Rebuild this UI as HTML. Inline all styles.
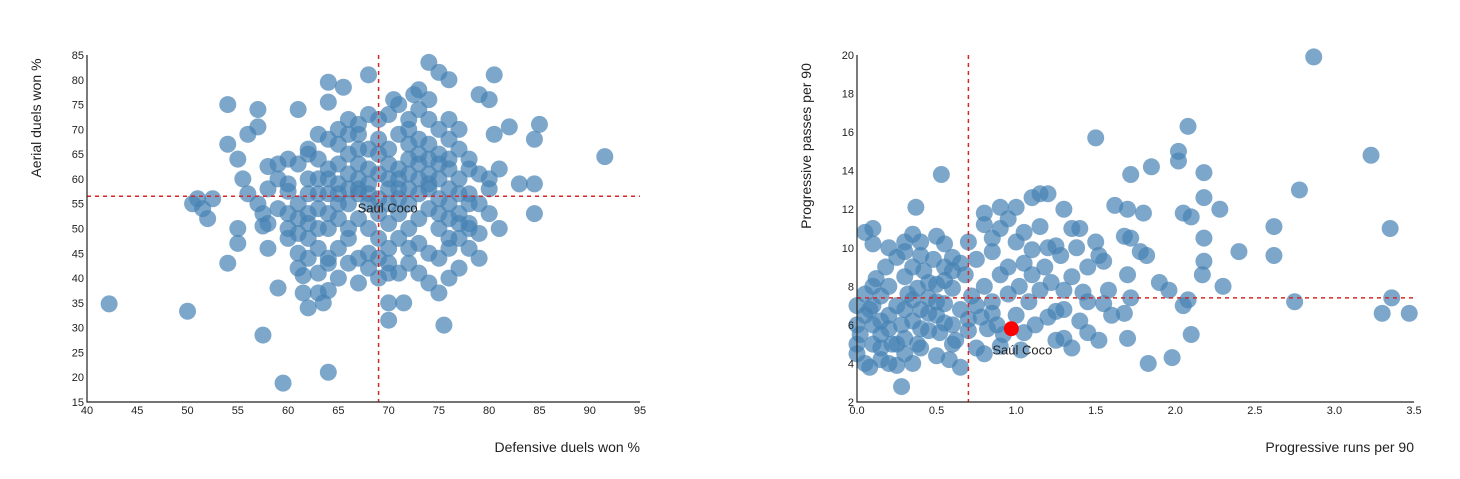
<!DOCTYPE html>
<html><head><meta charset="utf-8"><style>
body{margin:0;background:#fff;width:1460px;height:474px;overflow:hidden}
svg text{font-family:"Liberation Sans",sans-serif;fill:#222}
</style></head><body>
<svg id="s" width="1460" height="474"></svg>
<script>
const leftPts=[[42.2,34.8],[50,33.3],[50.5,55],[51,56],[51.5,54],[52,52],[52.5,56],[54,75],[54,43],[54,67],[55,64],[55,47],[55,50],[56,69],[57,74],[57,70.5],[57.5,28.5],[59.5,18.8],[64,21],[59,38],[91.5,64.5],[84.5,59],[84.5,53],[85,71],[84.5,68],[83,59],[82,70.5],[80.5,81],[80.5,69],[81,62],[81,50],[79,77],[80,76],[75.5,30.5],[70,31.5],[70,35],[71.5,35],[75,37],[74,83.5],[75,81.5],[76,80],[72.5,77],[70.5,76],[68,81],[64,79.5],[65.5,78.5],[64,75.5],[61,74],[58,62.5],[58,58],[57,55],[56,57],[55.5,60],[57.5,53],[57.5,50.5],[58,46],[59,60],[60,53],[60,57.5],[61,63],[61,45],[61,42],[62,44],[61.5,40.5],[61.5,37],[62,34],[63,37],[63.5,35],[64,37.5],[63,41],[64,43],[62,48],[61,49],[60,50],[62,53],[63,57],[62,60],[63,64],[62,66],[64,68],[65,70],[66,72],[67,71],[68,73],[69,72],[70,73],[71,75],[72,72],[73,74],[74,72],[75,70],[76,68],[77,66],[78,64],[79,61],[77,60],[76,58],[78,57],[79,55],[77,53],[75,50],[76,48],[78,46],[79,44],[77,42],[76,40],[74,39],[73,41],[72,43],[70,41],[69,40],[68,42],[67,44],[66,43],[65,46],[66,48],[64,50],[65,52],[66,55],[67,57],[68,59],[69,61],[70,60],[71,62],[72,64],[73,65],[74,67],[72,67],[70,66],[69,68],[68,66],[67,63],[66,61],[65,59],[64,57],[64,60],[63,54],[65,55],[67,52],[68,50],[69,48],[70,46],[71,48],[72,50],[73,52],[74,54],[75,56],[74,58],[73,60],[72,58],[71,56],[70,55],[69,53],[68,55],[67,58],[66,50],[70,51],[71,53],[72,55],[73,57],[74,61],[75,63],[76,62],[75,60],[76,64],[77,57],[78,51],[79,49],[80,53],[80,58],[78,62],[71,69],[72,70],[73,68],[74,64],[67,66],[66,65],[65,63],[64,62],[63,60],[62,57],[61,55],[60,59],[59,54],[58,51],[60,48],[61,52],[63,46],[64,44],[65,40],[67,39],[68,45],[69,44],[70,43],[71,41],[72,46],[73,47],[74,45],[75,44],[76,46],[77,48],[78,50],[71,58],[70,63],[69,65],[68,62],[67,60],[66,58],[65,57],[64,53],[63,50],[62,51],[68,57],[69,56],[70,58],[71,60],[72,61],[73,63],[74,59],[75,53],[76,55],[77,51],[65,67],[66,69],[67,69],[63,69],[62,65],[60,64],[59,63],[76,72],[77,70],[74,76],[73,78],[78,55],[80,60],[75,65],[76,52]];
const rightPts=[[2.87,19.9],[3.23,14.8],[2.78,13],[3.35,11],[3.36,7.4],[3.3,6.6],[3.47,6.6],[2.75,7.2],[2.62,11.1],[2.62,9.6],[2.4,9.8],[2.3,8],[2.28,12],[2.18,13.9],[2.18,12.6],[2.18,10.5],[2.18,9.3],[2.17,8.6],[2.08,16.3],[2.02,15],[2.02,14.5],[2.05,11.8],[2.1,11.6],[2.08,7.3],[2.05,7],[2.1,5.5],[1.98,4.3],[1.83,4],[1.96,7.8],[1.9,8.2],[1.85,14.2],[1.8,11.8],[1.82,9.6],[1.78,9.8],[1.72,13.8],[1.7,12],[1.68,10.6],[1.72,10.5],[1.7,8.6],[1.72,7.4],[1.7,5.3],[1.62,12.2],[1.58,7.8],[1.55,7.1],[1.52,5.2],[1.5,15.7],[1.5,10.3],[1.52,9.6],[1.55,9.3],[1.45,7.2],[1.45,9],[1.4,11],[1.38,10],[1.35,11],[1.3,12],[1.3,7.8],[1.35,4.8],[1.3,5.3],[1.25,6.7],[1.2,12.8],[1.2,10],[1.15,12.8],[1.1,12.6],[1.1,9.9],[1.05,9.2],[1.03,4.7],[1.0,12.1],[0.9,12.1],[0.8,11.8],[0.8,11.2],[0.7,10.3],[0.53,13.8],[0.37,12.1],[0.28,2.8],[0.1,11],[0.05,10.8],[0.1,10.2],[0.3,10.3],[0.35,10.7],[0.4,10.3],[0.5,10.6],[0.55,10.2],[0.6,9.5],[0,7],[0,6],[0,5],[0,4.5],[0.02,5.5],[0.05,4],[0.05,6.5],[0.05,7.6],[0.08,3.8],[0.1,5],[0.1,6],[0.1,7],[0.12,8.4],[0.15,4.2],[0.15,5.5],[0.15,7.5],[0.18,9],[0.2,4],[0.2,6.5],[0.2,8],[0.22,5],[0.25,3.9],[0.25,7],[0.25,9.5],[0.28,6],[0.3,4.5],[0.3,5.3],[0.3,8.5],[0.32,7.6],[0.35,6.2],[0.35,9],[0.38,5],[0.38,7.9],[0.4,4.8],[0.4,6.8],[0.42,8.8],[0.45,5.7],[0.45,7.4],[0.48,9.4],[0.5,4.4],[0.5,6.5],[0.5,8.1],[0.52,5.6],[0.55,7.1],[0.55,9.0],[0.58,4.2],[0.6,6.0],[0.6,7.9],[0.62,5.2],[0.65,3.8],[0.65,6.8],[0.68,8.6],[0.7,5.7],[0.72,7.5],[0.75,4.8],[0.75,9.4],[0.78,6.4],[0.8,4.5],[0.8,8.0],[0.82,5.8],[0.85,7.2],[0.85,9.8],[0.88,6.0],[0.9,8.6],[0.92,5.5],[0.95,7.6],[0.95,9.0],[1.0,6.5],[1.02,8.0],[1.05,5.6],[1.08,7.2],[1.1,8.6],[1.12,6.0],[1.15,7.8],[1.18,9.0],[1.2,6.4],[1.22,8.2],[1.25,5.2],[1.28,9.6],[1.3,6.8],[1.35,8.5],[1.4,6.2],[1.42,7.7],[1.45,5.6],[1.6,6.5],[1.68,6.6],[0.1,8.0],[0.2,5.8],[0.3,6.8],[0.4,5.8],[0.45,8.2],[0.55,6.1],[0.35,4.0],[0.25,5.0],[0.15,6.2],[0.6,8.8],[0.7,6.3],[0.65,9.2],[0.4,9.6],[0.3,9.8],[0.2,10.0],[0.85,10.5],[0.9,11.0],[1.0,10.3],[1.05,10.8],[0.95,11.5],[1.15,11.1],[1.25,10.1],[0.15,4.8],[0.08,6.8],[0.45,6.6],[0.5,7.2],[0.55,8.3],[0.75,7.0],[0.85,6.6],[0.9,4.9],[0.6,5.0],[0.35,7.3]];
const leftMean=[69,56.5];
const rightMean=[0.7,7.4];
const leftHighlight=[69.9,54];
const rightHighlight=[0.97,5.8];
const leftXTicks=[40,45,50,55,60,65,70,75,80,85,90,95];
const leftYTicks=[15,20,25,30,35,40,45,50,55,60,65,70,75,80,85];
const rightXTicks=[0,0.5,1,1.5,2,2.5,3,3.5];
const rightYTicks=[2,4,6,8,10,12,14,16,18,20];

const NS='http://www.w3.org/2000/svg',svg=document.getElementById('s');
function mk(t,a,p){const e=document.createElementNS(NS,t);for(const k in a)e.setAttribute(k,a[k]);(p||svg).appendChild(e);return e;}
function chart(o){
  const g=mk('g',{});
  
  
  const X=v=>o.x0+(v-o.xd[0])/(o.xd[1]-o.xd[0])*(o.x1-o.x0);
  const Y=v=>o.y0-(v-o.yd[0])/(o.yd[1]-o.yd[0])*(o.y0-o.y1);
  o.pts.forEach(p=>{const c=mk('circle',{cx:X(p[0]),cy:Y(p[1]),r:8.5,fill:'steelblue','fill-opacity':0.7},g);
    
    });
  if(o.red){const c=mk('circle',{cx:X(o.hl[0]),cy:Y(o.hl[1]),r:7.5,fill:'red'},g);
    
    }
  const vl=mk('line',{x1:X(o.mean[0]),x2:X(o.mean[0]),y1:o.y1,y2:o.y0,stroke:'#d62728','stroke-width':1.5,'stroke-dasharray':'4,4'},g);
  
  
  const hl=mk('line',{x1:o.x0,x2:o.x1,y1:Y(o.mean[1]),y2:Y(o.mean[1]),stroke:'#d62728','stroke-width':1.5,'stroke-dasharray':'4,4'},g);
  
  
  const lb=mk('text',{x:X(o.hl[0])+o.lx,y:Y(o.hl[1])+o.ly,'font-size':13,'text-anchor':'middle'},g);lb.textContent='Saúl Coco';
  
  
  const ax=mk('path',{d:`M${o.x0} ${o.y1}V${o.y0}H${o.x1}`,fill:'none',stroke:'#222','stroke-width':1.2},g);
  
  
  o.xt.forEach(t=>{const e=mk('text',{x:X(t),y:o.y0+12,'font-size':11,'text-anchor':'middle'},g);e.textContent=o.fx(t);
    
    });
  o.yt.forEach(t=>{const e=mk('text',{x:o.x0-3,y:Y(t)+4,'font-size':11,'text-anchor':'end'},g);e.textContent=t;
    
    });
  const xt=mk('text',{x:o.x1,y:452,'font-size':14,'text-anchor':'end'},g);xt.textContent=o.xl;
  
  
  const yt=mk('text',{x:0,y:0,'font-size':14,'text-anchor':'middle',transform:`translate(${o.x0-46},${o.ylc}) rotate(-90)`},g);yt.textContent=o.yl;
  
  
}
chart({name:'defensive-aerial-chart',pts:leftPts,mean:leftMean,hl:leftHighlight,red:false,lx:0,ly:4,x0:87,x1:640,y0:402,y1:55,xd:[40,95],yd:[15,85],xt:leftXTicks,yt:leftYTicks,fx:t=>t,xl:'Defensive duels won %',yl:'Aerial duels won %',ylc:118});
chart({name:'progressive-chart',pts:rightPts,mean:rightMean,hl:rightHighlight,red:true,lx:11,ly:26,x0:857,x1:1414,y0:402,y1:55,xd:[0,3.5],yd:[2,20],xt:rightXTicks,yt:rightYTicks,fx:t=>t.toFixed(1),xl:'Progressive runs per 90',yl:'Progressive passes per 90',ylc:146});
</script>
</body></html>
